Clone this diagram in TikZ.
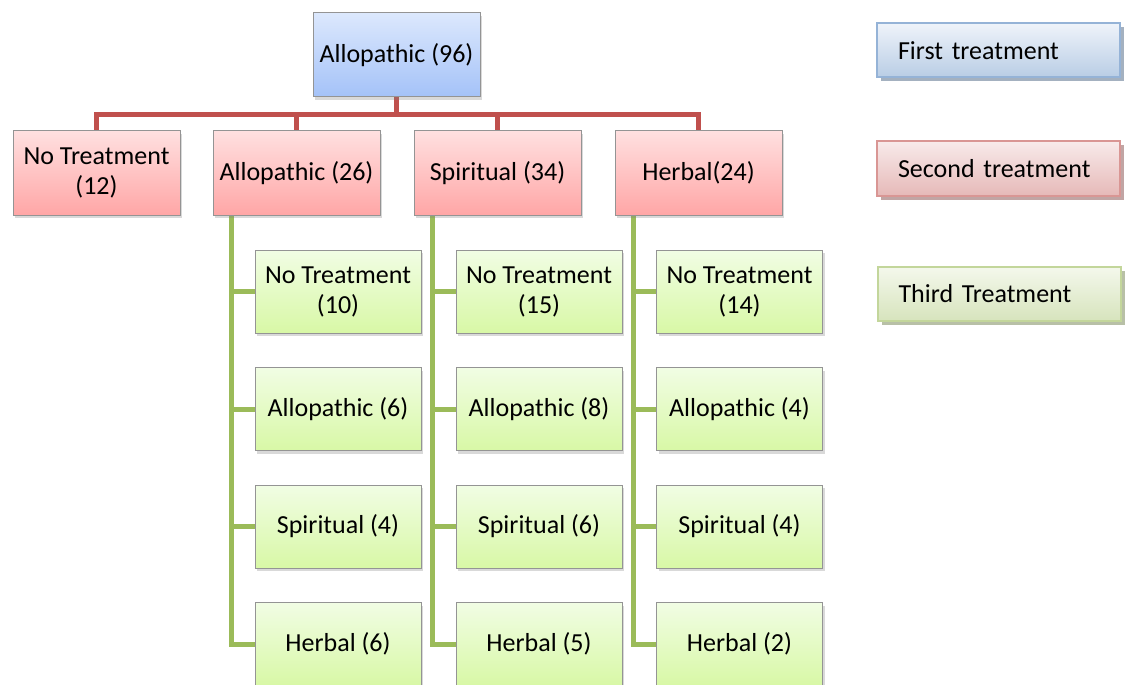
\documentclass[tikz,border=0pt]{standalone}
\usepackage{fontspec}
\setmainfont{Carlito}
\usetikzlibrary{shadows,backgrounds,calc}
\definecolor{blueT}{HTML}{DCE8FD}
\definecolor{blueB}{HTML}{A4C2F8}
\definecolor{redT}{HTML}{FFE0E0}
\definecolor{redB}{HTML}{FFA6A6}
\definecolor{greenT}{HTML}{F1FDE4}
\definecolor{greenB}{HTML}{D8F8A6}
\definecolor{boxline}{HTML}{949494}
\definecolor{redwire}{HTML}{C0504D}
\definecolor{greenwire}{HTML}{9BBB59}
\definecolor{lgBlueT}{HTML}{EEF3FA}
\definecolor{lgBlueB}{HTML}{B9CDE5}
\definecolor{lgBlueL}{HTML}{95B3D7}
\definecolor{lgRedT}{HTML}{F8EAEA}
\definecolor{lgRedB}{HTML}{E6B9B8}
\definecolor{lgRedL}{HTML}{D99694}
\definecolor{lgGreenT}{HTML}{F4F8EC}
\definecolor{lgGreenB}{HTML}{D7E4BD}
\definecolor{lgGreenL}{HTML}{C3D69B}
\tikzset{
  box/.style={draw=boxline, line width=0.5pt, minimum width=83.5pt, minimum height=42pt,
    inner sep=1pt, align=center, font=\fontsize{13}{15}\selectfont,
    drop shadow={shadow xshift=1pt, shadow yshift=-1.5pt, opacity=0.3}},
  firstbox/.style={box, top color=blueT, bottom color=blueB},
  secondbox/.style={box, top color=redT, bottom color=redB},
  thirdbox/.style={box, top color=greenT, bottom color=greenB, minimum width=83pt, minimum height=41.5pt},
  legend/.style={line width=1pt, minimum height=27pt, text width=100.5pt, inner xsep=10.5pt,
    inner ysep=1pt, align=left, font=\fontsize{13}{15}\selectfont},
  redlink/.style={draw=redwire, line width=2.5pt},
  greenlink/.style={draw=greenwire, line width=2.5pt},
}
\begin{document}
\begin{tikzpicture}[x=0.5pt, y=-0.5pt]
\useasboundingbox (0,0) rectangle (1127,684);
% first level
\node[firstbox] (top) at (396.5,55) {Allopathic (96)};
% second level
\node[secondbox] (s1) at (96.5,173) {No Treatment\\(12)};
\node[secondbox] (s2) at (296.5,173) {Allopathic (26)};
\node[secondbox] (s3) at (497.5,173) {Spiritual (34)};
\node[secondbox] (s4) at (698.5,173) {Herbal(24)};
% third level, column a
\node[thirdbox] (a1) at (338,291.5) {No Treatment\\(10)};
\node[thirdbox] (a2) at (338,409) {Allopathic (6)};
\node[thirdbox] (a3) at (338,526.5) {Spiritual (4)};
\node[thirdbox] (a4) at (338,644) {Herbal (6)};
% column b
\node[thirdbox] (b1) at (539,291.5) {No Treatment\\(15)};
\node[thirdbox] (b2) at (539,409) {Allopathic (8)};
\node[thirdbox] (b3) at (539,526.5) {Spiritual (6)};
\node[thirdbox] (b4) at (539,644) {Herbal (5)};
% column c
\node[thirdbox] (c1) at (739.5,291.5) {No Treatment\\(14)};
\node[thirdbox] (c2) at (739.5,409) {Allopathic (4)};
\node[thirdbox] (c3) at (739.5,526.5) {Spiritual (4)};
\node[thirdbox] (c4) at (739.5,644) {Herbal (2)};
% legend
\node[legend, draw=lgBlueL, top color=lgBlueT, bottom color=lgBlueB,
  drop shadow={shadow xshift=2pt, shadow yshift=-2pt, fill=lgBlueL!70!black, opacity=0.6}]
  (l1) at (998.5,50.5) {First treatment};
\node[legend, draw=lgRedL, top color=lgRedT, bottom color=lgRedB,
  drop shadow={shadow xshift=2pt, shadow yshift=-2pt, fill=lgRedL!70!black, opacity=0.6}]
  (l2) at (998.5,168.5) {Second treatment};
\node[legend, draw=lgGreenL, top color=lgGreenT, bottom color=lgGreenB,
  drop shadow={shadow xshift=2pt, shadow yshift=-2pt, fill=lgGreenL!70!black, opacity=0.6}]
  (l3) at (999,293.5) {Third Treatment};
% connectors
\begin{scope}[on background layer]
  \coordinate (bus) at (396.5,115);
  \draw[redlink] (top.south) -- (bus);
  \draw[redlink] (s1.north) |- (bus);
  \draw[redlink] (s2.north) |- (bus);
  \draw[redlink] (s3.north) |- (bus);
  \draw[redlink] (s4.north) |- (bus);
  \foreach \p/\c in {s2/a, s3/b, s4/c}{
    \coordinate (\c0) at ($(\p.south west)+(19,0)$);
    \draw[greenlink] (\c0) |- (\c4.west);
    \draw[greenlink] (\c0) |- (\c1.west);
    \draw[greenlink] (\c0) |- (\c2.west);
    \draw[greenlink] (\c0) |- (\c3.west);
  }
\end{scope}
\end{tikzpicture}
\end{document}
